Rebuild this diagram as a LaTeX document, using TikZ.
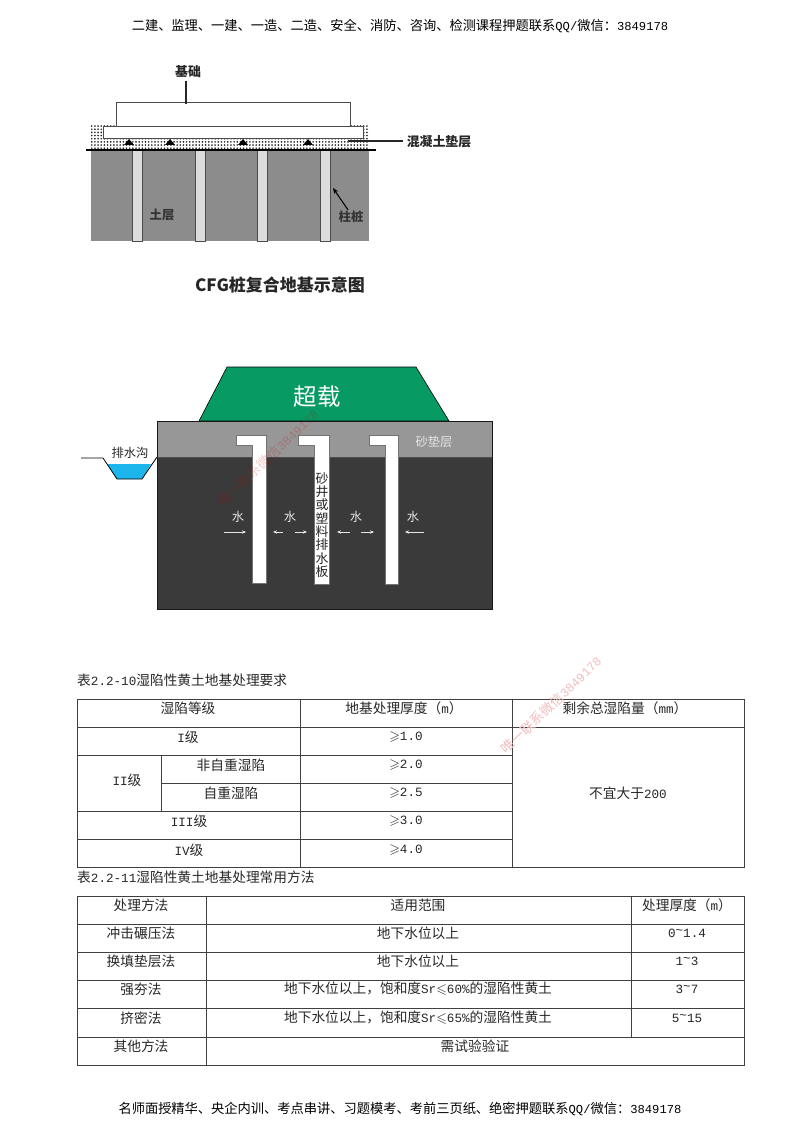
\documentclass[tikz,border=0pt]{standalone}
\usepackage{amsmath,amssymb}
\usepackage{fontspec}
\setmainfont{Noto Sans CJK SC}
\newfontfamily\halfmono[Scale=0.92]{Liberation Mono}
\newcommand{\uptilde}{\raisebox{.35ex}{\char`\~}}
\usetikzlibrary{positioning,arrows.meta,patterns.meta}
\definecolor{soilgray}{HTML}{8C8C8C}
\definecolor{pilegray}{HTML}{DCDCDC}
\definecolor{loadgreen}{HTML}{079A63}
\definecolor{sandgray}{HTML}{979797}
\definecolor{claydark}{HTML}{3A3A3A}
\definecolor{watercyan}{HTML}{1CB5EC}
\definecolor{markpink}{HTML}{F0BDBD}
\tikzset{
    bodytext/.style={font=\fontsize{11.7}{14}\selectfont,inner sep=0pt,text=black!85},
    pagetext/.style={font=\fontsize{11.3}{13}\selectfont,inner sep=0pt,text=black},
    figtext/.style={font=\fontsize{11}{13}\selectfont\bfseries,inner sep=0pt,text=black!85},
    soiltext/.style={font=\fontsize{10.5}{12}\selectfont\bfseries,inner sep=0pt,text=black!80},
    whitetext/.style={font=\fontsize{10.5}{12}\selectfont,inner sep=0pt,text=white!90!black},
    wmark/.style={font=\fontsize{11.5}{13}\selectfont,inner sep=0pt,text=markpink,rotate=44},
    grid/.style={draw=black!75,line width=.7pt},
    drain/.style={fill=white,draw=black!55,line width=.3pt},
    pile/.style={fill=pilegray,draw=black!70,line width=.5pt},
    lead/.style={draw=black!85,line width=.9pt},
    flow/.style={draw=white!90!black,line width=.5pt,-{Stealth[length=3.5pt,width=3pt]}}
}
\begin{document}
\begin{tikzpicture}[x=.03cm,y=-.03cm]
    \useasboundingbox (0,0) rectangle (800,1132);
    \node[pagetext] (headline) at (400,26) {二建、监理、一建、一造、二造、安全、消防、咨询、检测课程押题联系{\halfmono QQ/}微信：{\halfmono 3849178}};
    \node[pagetext] (footline) at (400,1109) {名师面授精华、央企内训、考点串讲、习题模考、考前三页纸、绝密押题联系{\halfmono QQ/}微信：{\halfmono 3849178}};

    % CFG pile figure
    \fill[soilgray] (91,150) rectangle (369,241);
    \fill[white,pattern={Dots[distance=2.7pt,radius=.8pt]},pattern color=black!85] (91,126) rectangle (369,150);
    \draw[pile] (132,149) rectangle (142,241);
    \draw[pile] (195,149) rectangle (205,241);
    \draw[pile] (257,149) rectangle (267,241);
    \draw[pile] (320,149) rectangle (330,241);
    \draw[fill=white,draw=black!70,line width=.7pt] (116,102) rectangle (350,126);
    \draw[fill=white,draw=black!70,line width=.7pt] (103,126) rectangle (363,138);
    \fill[black] (129,139) -- (134,145) -- (124,145) -- cycle;
    \fill[black] (170,139) -- (175,145) -- (165,145) -- cycle;
    \fill[black] (243,139) -- (248,145) -- (238,145) -- cycle;
    \fill[black] (308,139) -- (313,145) -- (303,145) -- cycle;
    \coordinate (groundl) at (86,150);
    \coordinate (groundr) at (376,150);
    \draw[black,line width=1.1pt] (groundl) -- (groundr);
    \node[figtext] (jichu) at (188,72) {基础};
    \coordinate (jichuend) at (186,104);
    \draw[lead] (186,81) -- (jichuend);
    \node[figtext] (dianceng) at (439,142) {混凝土垫层};
    \coordinate (diancengend) at (348,141);
    \draw[lead] (dianceng.west) ++(-4,-1) -- (diancengend);
    \node[soiltext] (turang) at (162,215) {土层};
    \node[soiltext] (zhuzhuang) at (351,217) {柱桩};
    \coordinate (zhuzhuangend) at (333,188);
    \draw[black,line width=.9pt,-{Stealth[length=5pt,width=4pt]}] (zhuzhuang.north) ++(-3,-1) -- (zhuzhuangend);
    \node[font=\fontsize{14.5}{16}\selectfont\bfseries,inner sep=0pt,text=black!85] (cfgtitle) at (280,285) {CFG桩复合地基示意图};

    % surcharge figure
    \draw[fill=loadgreen,draw=black,line width=.5pt] (199,421) -- (227,367) -- (416,367) -- (449,421) -- cycle;
    \fill[sandgray] (157,421) rectangle (492,457);
    \fill[claydark] (157,457) rectangle (492,609);
    \draw[black!90,line width=.6pt] (157,421) rectangle (492,609);
    \draw[black!70,line width=.4pt] (157,457) -- (492,457);
    \draw[drain] (236,435) -- (266,435) -- (266,583) -- (252,583) -- (252,445) -- (236,445) -- cycle;
    \draw[drain] (298,435) -- (329,435) -- (329,584) -- (314,584) -- (314,445) -- (298,445) -- cycle;
    \draw[drain] (369,435) -- (398,435) -- (398,584) -- (385,584) -- (385,445) -- (369,445) -- cycle;
    \fill[watercyan] (107,464) -- (151,464) -- (142,479) -- (117,479) -- cycle;
    \draw[black,line width=.7pt] (81,458) -- (103,458) -- (117,479) -- (142,479) -- (157,457);
    \node[font=\fontsize{20}{24}\selectfont,inner sep=0pt,text=white] (chaozai) at (317,397) {超载};
    \node[whitetext] (shadian) at (434,442) {砂垫层};
    \node[font=\fontsize{10.5}{12}\selectfont,inner sep=0pt,text=black!85] (paishui) at (130,453) {排水沟};
    \node[font=\fontsize{11}{11.4}\selectfont,inner sep=0pt,text=black!85,align=center] (shajing) at (322,525) {砂\\井\\或\\塑\\料\\排\\水\\板};
    \node[whitetext] (shui1) at (238,517) {水};
    \node[whitetext] (shui2) at (290,517) {水};
    \node[whitetext] (shui3) at (356,517) {水};
    \node[whitetext] (shui4) at (413,517) {水};
    \coordinate (in1) at (224,532);
    \coordinate (to1) at (246,532);
    \coordinate (in2) at (283,532);
    \coordinate (to2) at (273,532);
    \coordinate (in3) at (295,532);
    \coordinate (to3) at (307,532);
    \coordinate (in4) at (350,532);
    \coordinate (to4) at (337,532);
    \coordinate (in5) at (361,532);
    \coordinate (to5) at (374,532);
    \coordinate (in6) at (424,532);
    \coordinate (to6) at (405,532);
    \draw[flow] (in1) -- (to1);
    \draw[flow] (in2) -- (to2);
    \draw[flow] (in3) -- (to3);
    \draw[flow] (in4) -- (to4);
    \draw[flow] (in5) -- (to5);
    \draw[flow] (in6) -- (to6);
    \node[wmark,opacity=.22,text=red!75!black] (markfig) at (268,458) {唯一联系微信{\halfmono 3849178}};

    % first table
    \node[bodytext,anchor=west] (capa) at (77,680) {表{\halfmono 2.2-10}湿陷性黄土地基处理要求};
    \draw[grid] (77,699) rectangle (744,867);
    \draw[grid] (300,699) -- (300,867);
    \draw[grid] (512,699) -- (512,867);
    \draw[grid] (161,755) -- (161,811);
    \draw[grid] (77,727) -- (744,727);
    \draw[grid] (77,755) -- (512,755);
    \draw[grid] (161,783) -- (512,783);
    \draw[grid] (77,811) -- (512,811);
    \draw[grid] (77,839) -- (512,839);
    \node[bodytext] (a11) at (188,708) {湿陷等级};
    \node[bodytext] (a12) at (404,708) {地基处理厚度（{\halfmono m}）};
    \node[bodytext] (a13) at (625,708) {剩余总湿陷量（{\halfmono mm}）};
    \node[bodytext] (a21) at (188,737) {{\halfmono I}级};
    \node[bodytext] (a22) at (406,737) {$\geqslant${\halfmono 1.0}};
    \node[bodytext] (a31) at (127,780) {{\halfmono II}级};
    \node[bodytext] (a32) at (231,765) {非自重湿陷};
    \node[bodytext] (a33) at (406,765) {$\geqslant${\halfmono 2.0}};
    \node[bodytext] (a42) at (231,793) {自重湿陷};
    \node[bodytext] (a43) at (406,793) {$\geqslant${\halfmono 2.5}};
    \node[bodytext] (a51) at (189,821) {{\halfmono III}级};
    \node[bodytext] (a52) at (406,821) {$\geqslant${\halfmono 3.0}};
    \node[bodytext] (a61) at (189,850) {{\halfmono IV}级};
    \node[bodytext] (a62) at (406,850) {$\geqslant${\halfmono 4.0}};
    \node[bodytext] (a23) at (628,793) {不宜大于{\halfmono 200}};
    \node[wmark] (marktable) at (551,705) {唯一联系微信{\halfmono 3849178}};

    % second table
    \node[bodytext,anchor=west] (capb) at (77,877) {表{\halfmono 2.2-11}湿陷性黄土地基处理常用方法};
    \draw[grid] (77,896) rectangle (744,1065);
    \draw[grid] (206,896) -- (206,1065);
    \draw[grid] (631,896) -- (631,1037);
    \draw[grid] (77,924) -- (744,924);
    \draw[grid] (77,952) -- (744,952);
    \draw[grid] (77,980) -- (744,980);
    \draw[grid] (77,1008) -- (744,1008);
    \draw[grid] (77,1037) -- (744,1037);
    \node[bodytext] (b11) at (141,905) {处理方法};
    \node[bodytext] (b12) at (418,905) {适用范围};
    \node[bodytext] (b13) at (687,905) {处理厚度（{\halfmono m}）};
    \node[bodytext] (b21) at (141,933) {冲击碾压法};
    \node[bodytext] (b22) at (418,933) {地下水位以上};
    \node[bodytext] (b23) at (687,933) {{\halfmono 0\uptilde 1.4}};
    \node[bodytext] (b31) at (141,961) {换填垫层法};
    \node[bodytext] (b32) at (418,961) {地下水位以上};
    \node[bodytext] (b33) at (687,961) {{\halfmono 1\uptilde 3}};
    \node[bodytext] (b41) at (141,989) {强夯法};
    \node[bodytext] (b42) at (418,989) {地下水位以上，饱和度{\halfmono Sr}$\leqslant${\halfmono 60\%}的湿陷性黄土};
    \node[bodytext] (b43) at (687,989) {{\halfmono 3\uptilde 7}};
    \node[bodytext] (b51) at (141,1018) {挤密法};
    \node[bodytext] (b52) at (418,1018) {地下水位以上，饱和度{\halfmono Sr}$\leqslant${\halfmono 65\%}的湿陷性黄土};
    \node[bodytext] (b53) at (687,1018) {{\halfmono 5\uptilde 15}};
    \node[bodytext] (b61) at (141,1046) {其他方法};
    \node[bodytext] (b62) at (475,1046) {需试验验证};
\end{tikzpicture}
\end{document}
